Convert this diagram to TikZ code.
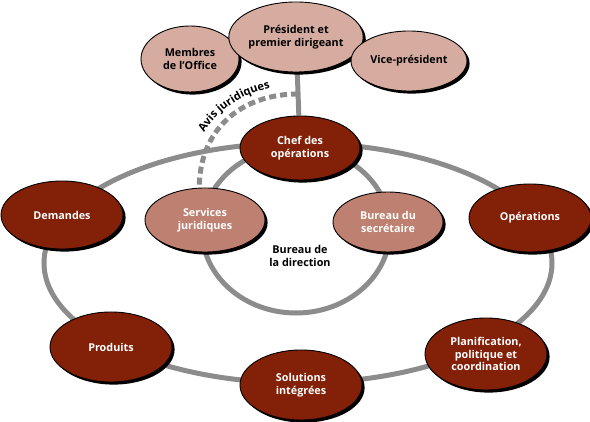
\documentclass[tikz,border=0pt]{standalone}
\usepackage{fontspec}
\setmainfont{Open Sans}
\usetikzlibrary{shapes.geometric,shadows,backgrounds,decorations.text,calc}
\definecolor{ovdark}{RGB}{130,32,8}
\definecolor{ovmid}{RGB}{190,128,112}
\definecolor{ovlight}{RGB}{214,172,160}
\definecolor{ringgray}{RGB}{140,140,140}

\begin{document}
\begin{tikzpicture}[x=1pt, y=1pt,
  font=\bfseries\fontsize{10.8}{12.6}\selectfont,
  ov/.style={ellipse, draw=black, line width=0.9pt, align=center, inner sep=0pt,
             drop shadow={shadow xshift=2.6pt, shadow yshift=-2.6pt, fill=black, opacity=1}},
  dark/.style={ov, fill=ovdark, text=white, minimum width=122pt, minimum height=68pt},
  mid/.style={ov, fill=ovmid, text=white},
  light/.style={ov, fill=ovlight, text=black},
  ring/.style={draw=ringgray, line width=5pt},
  avis/.style={ring, dash pattern=on 7pt off 4pt}]
\useasboundingbox (0,0) rectangle (590,422);
% top: direction
\node[light, minimum width=98pt, minimum height=66pt] (memb) at (190,363) {Membres\\de l’Office};
\node[light, minimum width=118pt, minimum height=70pt] (pres) at (296,385) {Président et\\premier dirigeant};
\node[light, minimum width=116pt, minimum height=60pt] (vice) at (409,361) {Vice-président};
% bureau de la direction
\node[dark, minimum width=120pt, minimum height=64pt] (chef) at (300,274) {Chef des\\opérations};
\node[mid, minimum width=120pt, minimum height=64pt] (serv) at (205,202) {Services\\juridiques};
\node[mid, minimum width=110pt, minimum height=60pt] (secr) at (388,200) {Bureau du\\secrétaire};
\node[align=center] (dir) at (300,166) {Bureau de\\la direction};
% outer ring
\node[dark] (dem) at (62,207) {Demandes};
\node[dark] (oper) at (530,204) {Opérations};
\node[dark, minimum height=70pt] (prod) at (111,75) {Produits};
\node[dark, minimum height=70pt] (sol) at (301,37) {Solutions\\intégrées};
\node[dark, minimum height=72pt] (plan) at (486,68) {Planification,\\politique et\\coordination};
\coordinate (avisdep) at ($(pres.south)!0.5!(chef.north)$);
\begin{scope}[on background layer]
  \draw[ring] (298,159) ellipse [x radius=254pt, y radius=120pt];
  \draw[ring] (296,192) ellipse [x radius=94pt, y radius=83pt];
  \draw[ring] (pres) -- (chef);
  \draw[avis] (avisdep) .. controls +(-57,0) and +(0,58) .. (serv.100);
\end{scope}
\path[decorate, decoration={text along path, text align=center,
  text={|\bfseries\fontsize{11.2}{13}\selectfont|Avis juridiques}}]
  (193,256) .. controls (200,305) and (240,336) .. (305,339);
\end{tikzpicture}
\end{document}
